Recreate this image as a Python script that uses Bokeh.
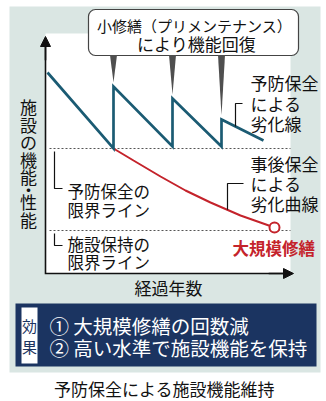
import numpy as np
from bokeh.plotting import figure
from bokeh.models import Range1d, Arrow, NormalHead
from bokeh.core.properties import value
from bokeh.embed import file_html
from bokeh.resources import INLINE

# ---------------- data (x: elapsed years, y: facility performance; chart units) ----------------
prev_x = [2, 68, 68, 127, 127, 176, 176, 218]          # preventive-maintenance deterioration line
prev_y = [201, 125, 187, 127, 175, 127, 154, 133]
repair_x = [68, 127, 176]                                # minor repairs (pre-maintenance)
repair_peak = [187, 175, 154]
post_x = [68, 88, 115, 140, 165, 195, 229]               # corrective-maintenance deterioration curve
post_y = [125, 113, 97, 83, 71, 58, 46]
major_x = [229]                                          # major repair point
major_y = [46]
prev_limit = 125                                         # preventive maintenance limit line
hold_limit = 43                                          # facility holding limit line
axis_x_end = 248
axis_y_end = 237

y_label = "施設の機能・性能"
x_label = "経過年数"
callout = ["小修繕（プリメンテナンス）", "により機能回復"]
prev_label = ["予防保全", "による", "劣化線"]
post_label = ["事後保全", "による", "劣化曲線"]
prev_limit_label = ["予防保全の", "限界ライン"]
hold_limit_label = ["施設保持の", "限界ライン"]
major_label = "大規模修繕"
effect_head = ["効", "果"]
effect_lines = ["① 大規模修繕の回数減", "② 高い水準で施設機能を保持"]
caption = "予防保全による施設機能維持"

# ---------------- styling ----------------
FONT = "Noto Sans CJK JP"
TEAL_BG = "#dae6e3"
LINE_TEAL = "#1b5b73"
RED = "#c4232b"
NAVY = "#1b3461"
INK = "#111111"


def X(px):
    return px - 45


def Y(py):
    return 273 - py


p = figure(width=326, height=401, x_range=Range1d(-45, 281), y_range=Range1d(-128, 273),
           output_backend="svg", toolbar_location=None, min_border=0,
           x_axis_location=None, y_axis_location=None, outline_line_color=None,
           background_fill_color="white", border_fill_color="white")
p.grid.visible = False


def txt(px, py, s, size=16.5, color=INK, align="left", bold=False):
    p.text(x=[X(px)], y=[Y(py)], text=[s], text_font=value(FONT),
           text_font_size=f"{size}px", text_color=color, text_align=align,
           text_baseline="middle", text_font_style="bold" if bold else "normal")


# background panels
p.quad(left=X(9), right=X(320), top=Y(6), bottom=Y(372), fill_color=TEAL_BG, line_color=None)
p.quad(left=X(45), right=X(290), top=Y(33), bottom=Y(273), fill_color="white", line_color=None)

# limit lines
for lv in (prev_limit, hold_limit):
    p.line(x=[X(49), X(290)], y=[lv, lv], line_dash="2 2", line_color="#555555", line_width=1)

# axes
p.line(x=[0, 0, axis_x_end - 6], y=[axis_y_end - 6, 0, 0], line_color="#111111", line_width=1.6,
       line_join="miter")
for xe, ye in ((axis_x_end, 0), (0, axis_y_end)):
    p.add_layout(Arrow(end=NormalHead(size=10, fill_color="#111111", line_color="#111111"),
                       x_start=xe * 0.9, y_start=ye * 0.9, x_end=xe, y_end=ye,
                       line_color="#111111", line_width=1.6))

# callout box and spikes
p.quad(left=X(88), right=X(298), top=Y(9), bottom=Y(55), fill_color="white",
       line_color="#444444", line_width=1.2, border_radius=7)
p.patches(xs=[[rx - 3.5, rx + 3.5, rx] for rx in repair_x],
          ys=[[Y(54.5), Y(54.5), pk + 4] for pk in repair_peak],
          fill_color="#4f4f4f", line_color=None)
txt(194, 25, callout[0], 15, align="center")
txt(196, 43, callout[1], 17, align="center")

# curves
p.line(post_x, post_y, line_color=RED, line_width=2)
p.line(prev_x, prev_y, line_color=LINE_TEAL, line_width=2.7, line_join="miter")
p.scatter(major_x, major_y, size=10, fill_color="white", line_color=RED, line_width=2)

# brackets
yb1 = float(np.interp(X(235), prev_x[-2:], prev_y[-2:]))
p.line(x=[X(242), X(235), X(235)], y=[Y(103), Y(103), yb1], line_color=INK, line_width=1.2)
yb2 = float(np.interp(X(227), post_x, post_y))
p.line(x=[X(243), X(227), X(227)], y=[Y(183), Y(183), yb2], line_color=INK, line_width=1.2)
p.line(x=[X(54), X(54), X(62)], y=[Y(151), Y(188), Y(188)], line_color=INK, line_width=1.2)
p.line(x=[X(54), X(54), X(62)], y=[Y(233), Y(245), Y(245)], line_color=INK, line_width=1.2)

# labels
for i, s in enumerate(prev_label):
    txt(250, 82 + 20.5 * i, s, 17)
for i, s in enumerate(post_label):
    txt(250, 163 + 20 * i, s, 17)
for i, s in enumerate(prev_limit_label):
    txt(67, 190 + 19 * i, s, 16.5)
for i, s in enumerate(hold_limit_label):
    txt(67, 243 + 18.5 * i, s, 16.5)
txt(232, 247, major_label, 16.5, color=RED, bold=True)

# vertical y label
yy = 106.0
for ch in y_label:
    if ch == "・":
        yy += 12.5 - 17.6
        txt(28, yy, ch, 17, align="center")
        yy += 12.5
        continue
    txt(28, yy, ch, 17, align="center")
    yy += 17.6

txt(168, 287, x_label, 17, align="center")

# effect box
p.quad(left=X(15), right=X(316), top=Y(303), bottom=Y(366), fill_color=NAVY, line_color=None)
p.quad(left=X(21), right=X(37), top=Y(307), bottom=Y(363), fill_color="white", line_color=None)
txt(29, 325, effect_head[0], 15, color=NAVY, align="center")
txt(29, 346, effect_head[1], 15, color=NAVY, align="center")
txt(49, 325, effect_lines[0], 19.5, color="white")
txt(49, 347, effect_lines[1], 19.5, color="white")

txt(164, 388, caption, 17, align="center")

open("out.html", "w").write(file_html(p, INLINE))
